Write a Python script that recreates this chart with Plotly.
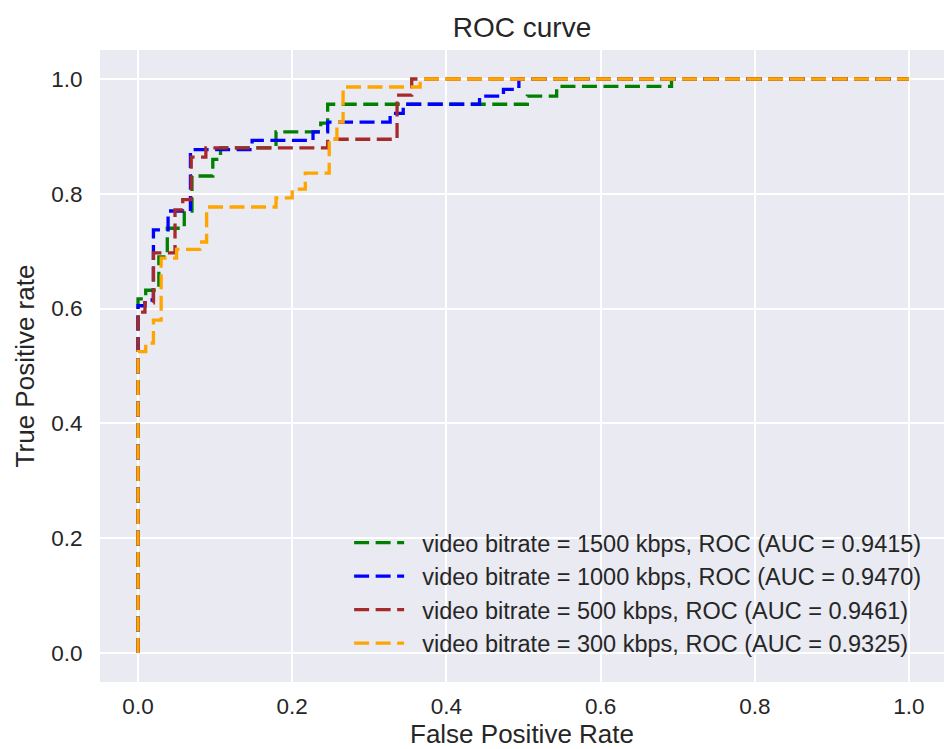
import plotly.graph_objects as go

# ROC curve data
fpr_1500 = [0, 0, 0.01, 0.01, 0.027, 0.027, 0.038, 0.038, 0.06, 0.06, 0.07, 0.07, 0.097, 0.097,
            0.107, 0.107, 0.179, 0.179, 0.237, 0.237, 0.246, 0.246, 0.505, 0.505, 0.543, 0.543,
            0.692, 0.692, 1.0]
tpr_1500 = [0, 0.617, 0.617, 0.632, 0.632, 0.69, 0.69, 0.74, 0.74, 0.77, 0.77, 0.831, 0.831, 0.86,
            0.86, 0.88, 0.88, 0.908, 0.908, 0.923, 0.923, 0.956, 0.956, 0.97, 0.97, 0.987,
            0.987, 1.0, 1.0]

fpr_1000 = [0, 0, 0.009, 0.009, 0.02, 0.02, 0.039, 0.039, 0.068, 0.068, 0.148, 0.148, 0.227, 0.227,
            0.246, 0.246, 0.327, 0.327, 0.344, 0.344, 0.443, 0.443, 0.474, 0.474, 0.494, 0.494, 1.0]
tpr_1000 = [0, 0.605, 0.605, 0.615, 0.615, 0.737, 0.737, 0.77, 0.77, 0.877, 0.877, 0.893, 0.893, 0.908,
            0.908, 0.925, 0.925, 0.94, 0.94, 0.956, 0.956, 0.97, 0.97, 0.982, 0.982, 1.0, 1.0]

fpr_500 = [0, 0, 0.009, 0.009, 0.02, 0.02, 0.048, 0.048, 0.058, 0.058, 0.069, 0.069, 0.088, 0.088,
           0.246, 0.246, 0.336, 0.336, 0.355, 0.355, 1.0]
tpr_500 = [0, 0.594, 0.594, 0.61, 0.61, 0.697, 0.697, 0.772, 0.772, 0.79, 0.79, 0.864, 0.864, 0.88,
           0.88, 0.895, 0.895, 0.972, 0.972, 1.0, 1.0]

fpr_300 = [0, 0, 0.01, 0.01, 0.02, 0.02, 0.03, 0.03, 0.05, 0.05, 0.08, 0.08, 0.089, 0.089, 0.179,
           0.179, 0.2, 0.2, 0.217, 0.217, 0.248, 0.248, 0.258, 0.258, 0.266, 0.266, 0.366, 0.366, 1.0]
tpr_300 = [0, 0.525, 0.525, 0.54, 0.54, 0.58, 0.58, 0.688, 0.688, 0.703, 0.703, 0.716, 0.716, 0.777,
           0.777, 0.793, 0.793, 0.808, 0.808, 0.836, 0.836, 0.895, 0.895, 0.925, 0.925, 0.986,
           0.986, 1.0, 1.0]

names = ["video bitrate = 1500 kbps, ROC (AUC = 0.9415)",
         "video bitrate = 1000 kbps, ROC (AUC = 0.9470)",
         "video bitrate = 500 kbps, ROC (AUC = 0.9461)",
         "video bitrate = 300 kbps, ROC (AUC = 0.9325)"]
colors = ["green", "blue", "brown", "orange"]
series = [(fpr_1500, tpr_1500), (fpr_1000, tpr_1000), (fpr_500, tpr_500), (fpr_300, tpr_300)]

tick_vals = [0.0, 0.2, 0.4, 0.6, 0.8, 1.0]
tick_text = ["0.0", "0.2", "0.4", "0.6", "0.8", "1.0"]

fig = go.Figure()
for (x, y), n, c in zip(series, names, colors):
    fig.add_trace(go.Scatter(x=x, y=y, mode="lines", name="\u00a0\u00a0" + n,
                             line=dict(color=c, width=3.3, dash="15px,6.5px")))

font_family = "Liberation Sans, Arial, sans-serif"
fig.update_layout(
    width=944, height=749,
    margin=dict(l=100, r=0, t=50, b=67),
    paper_bgcolor="white", plot_bgcolor="#EAEAF2",
    font=dict(family=font_family, color="#262626", size=22),
    title=dict(text="ROC curve", x=0.5, xref="paper", xanchor="center",
               y=1 - 27 / 749, yref="container", yanchor="middle",
               font=dict(size=28, color="#262626")),
    showlegend=True,
    legend=dict(x=0.98, xanchor="right", y=0.0257, yanchor="bottom",
                bgcolor="rgba(0,0,0,0)", font=dict(size=23.5, color="#262626"),
                tracegroupgap=0, itemwidth=50),
)
fig.update_xaxes(range=[-0.0493, 1.0454], tickvals=tick_vals, ticktext=tick_text,
                 showgrid=True, gridcolor="white", gridwidth=2, zeroline=False,
                 showline=False, ticks="outside", ticklen=4, tickcolor="rgba(0,0,0,0)",
                 tickfont=dict(size=22.5), automargin=False,
                 title=dict(text="False Positive Rate", font=dict(size=26), standoff=11))
fig.update_yaxes(range=[-0.0505, 1.0505], tickvals=tick_vals, ticktext=tick_text,
                 showgrid=True, gridcolor="white", gridwidth=2, zeroline=False,
                 showline=False, ticks="outside", ticklen=12, tickcolor="rgba(0,0,0,0)",
                 tickfont=dict(size=22.5), automargin=False,
                 title=dict(text="True Positive rate", font=dict(size=26), standoff=9))

fig.write_html("out.html",
               config={"displayModeBar": False},
               post_script="document.documentElement.style.margin='0';"
                           "document.body.style.margin='0';"
                           "document.body.style.overflow='hidden';")
